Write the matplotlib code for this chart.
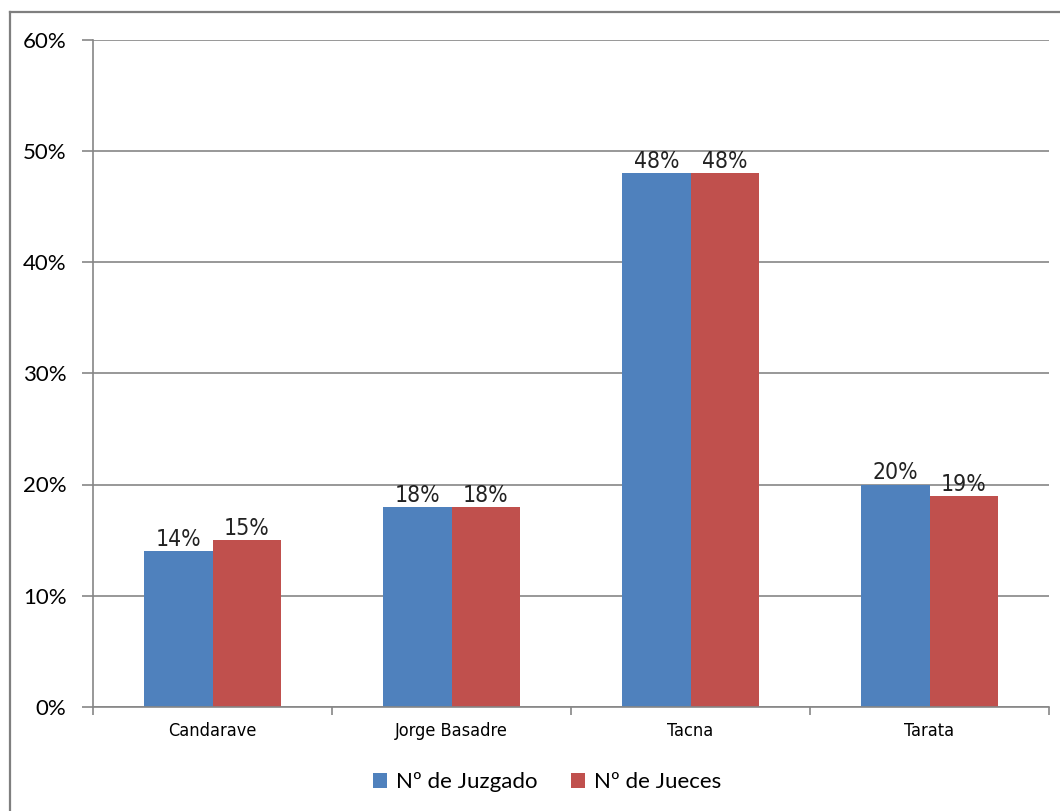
import matplotlib
matplotlib.use('Agg')
import matplotlib.pyplot as plt
import numpy as np
from matplotlib.lines import Line2D

# datos
distritos = ['Candarave', 'Jorge Basadre', 'Tacna', 'Tarata']
juzgados = [14, 18, 48, 20]
jueces = [15, 18, 48, 19]
series = ['Nº de Juzgado', 'Nº de Jueces']
colores = ['#4F81BD', '#C0504D']
gris = '#868686'
angosta = dict(family='DejaVu Sans', stretch='condensed')

fig = plt.figure(figsize=(10.6, 8.11), dpi=100)
ax = fig.add_axes([93/1060, 1 - 707/811, (1049 - 93)/1060, (707 - 39.5)/811])

x = np.arange(len(distritos))
w = 0.285
b1 = ax.bar(x - w/2, juzgados, w, color=colores[0], label=series[0])
b2 = ax.bar(x + w/2, jueces, w, color=colores[1], label=series[1])

for barras, vals in [(b1, juzgados), (b2, jueces)]:
    for r, v in zip(barras, vals):
        ax.annotate(f'{v}%', (r.get_x() + r.get_width()/2, r.get_height()),
                    xytext=(0, 0), textcoords='offset points', ha='center', va='bottom',
                    fontsize=16.5, color='#222222', **angosta)

ax.set_ylim(0, 60)
ax.set_xlim(-0.5, len(distritos) - 0.5)
ax.set_yticks(range(0, 61, 10))
ax.set_yticklabels([f'{t}%' for t in range(0, 61, 10)], fontsize=16, family='Lato')
ax.yaxis.grid(True, color=gris, lw=1.2)
ax.set_axisbelow(True)
ax.tick_params(axis='y', length=8, width=1.2, color=gris, pad=11)

ax.set_xticks(x)
ax.set_xticklabels(distritos, fontsize=13, **angosta)
ax.tick_params(axis='x', which='major', length=0, pad=11)
ax.set_xticks(np.arange(-0.5, len(distritos)), minor=True)
ax.tick_params(axis='x', which='minor', length=6, width=1.2, color=gris)

for s in ['top', 'right']:
    ax.spines[s].set_visible(False)
for s in ['left', 'bottom']:
    ax.spines[s].set_color(gris)
    ax.spines[s].set_linewidth(1.2)

# marco del grafico (cortado a la derecha y abajo)
xm, ym = 9.5/1060, 1 - 12/811
fig.add_artist(Line2D([xm, xm], [0, ym], transform=fig.transFigure, color='#7f7f7f', lw=1.6))
fig.add_artist(Line2D([xm, 1], [ym, ym], transform=fig.transFigure, color='#7f7f7f', lw=1.6))

fig.legend(handles=[b1, b2], labels=series, loc='center', bbox_to_anchor=(547/1060, 1 - 782/811),
           ncol=2, frameon=False, prop={'family': 'Lato', 'size': 16},
           handlelength=0.65, handleheight=0.65, handletextpad=0.4, columnspacing=1.5)

fig.savefig('out.png', dpi=100)
